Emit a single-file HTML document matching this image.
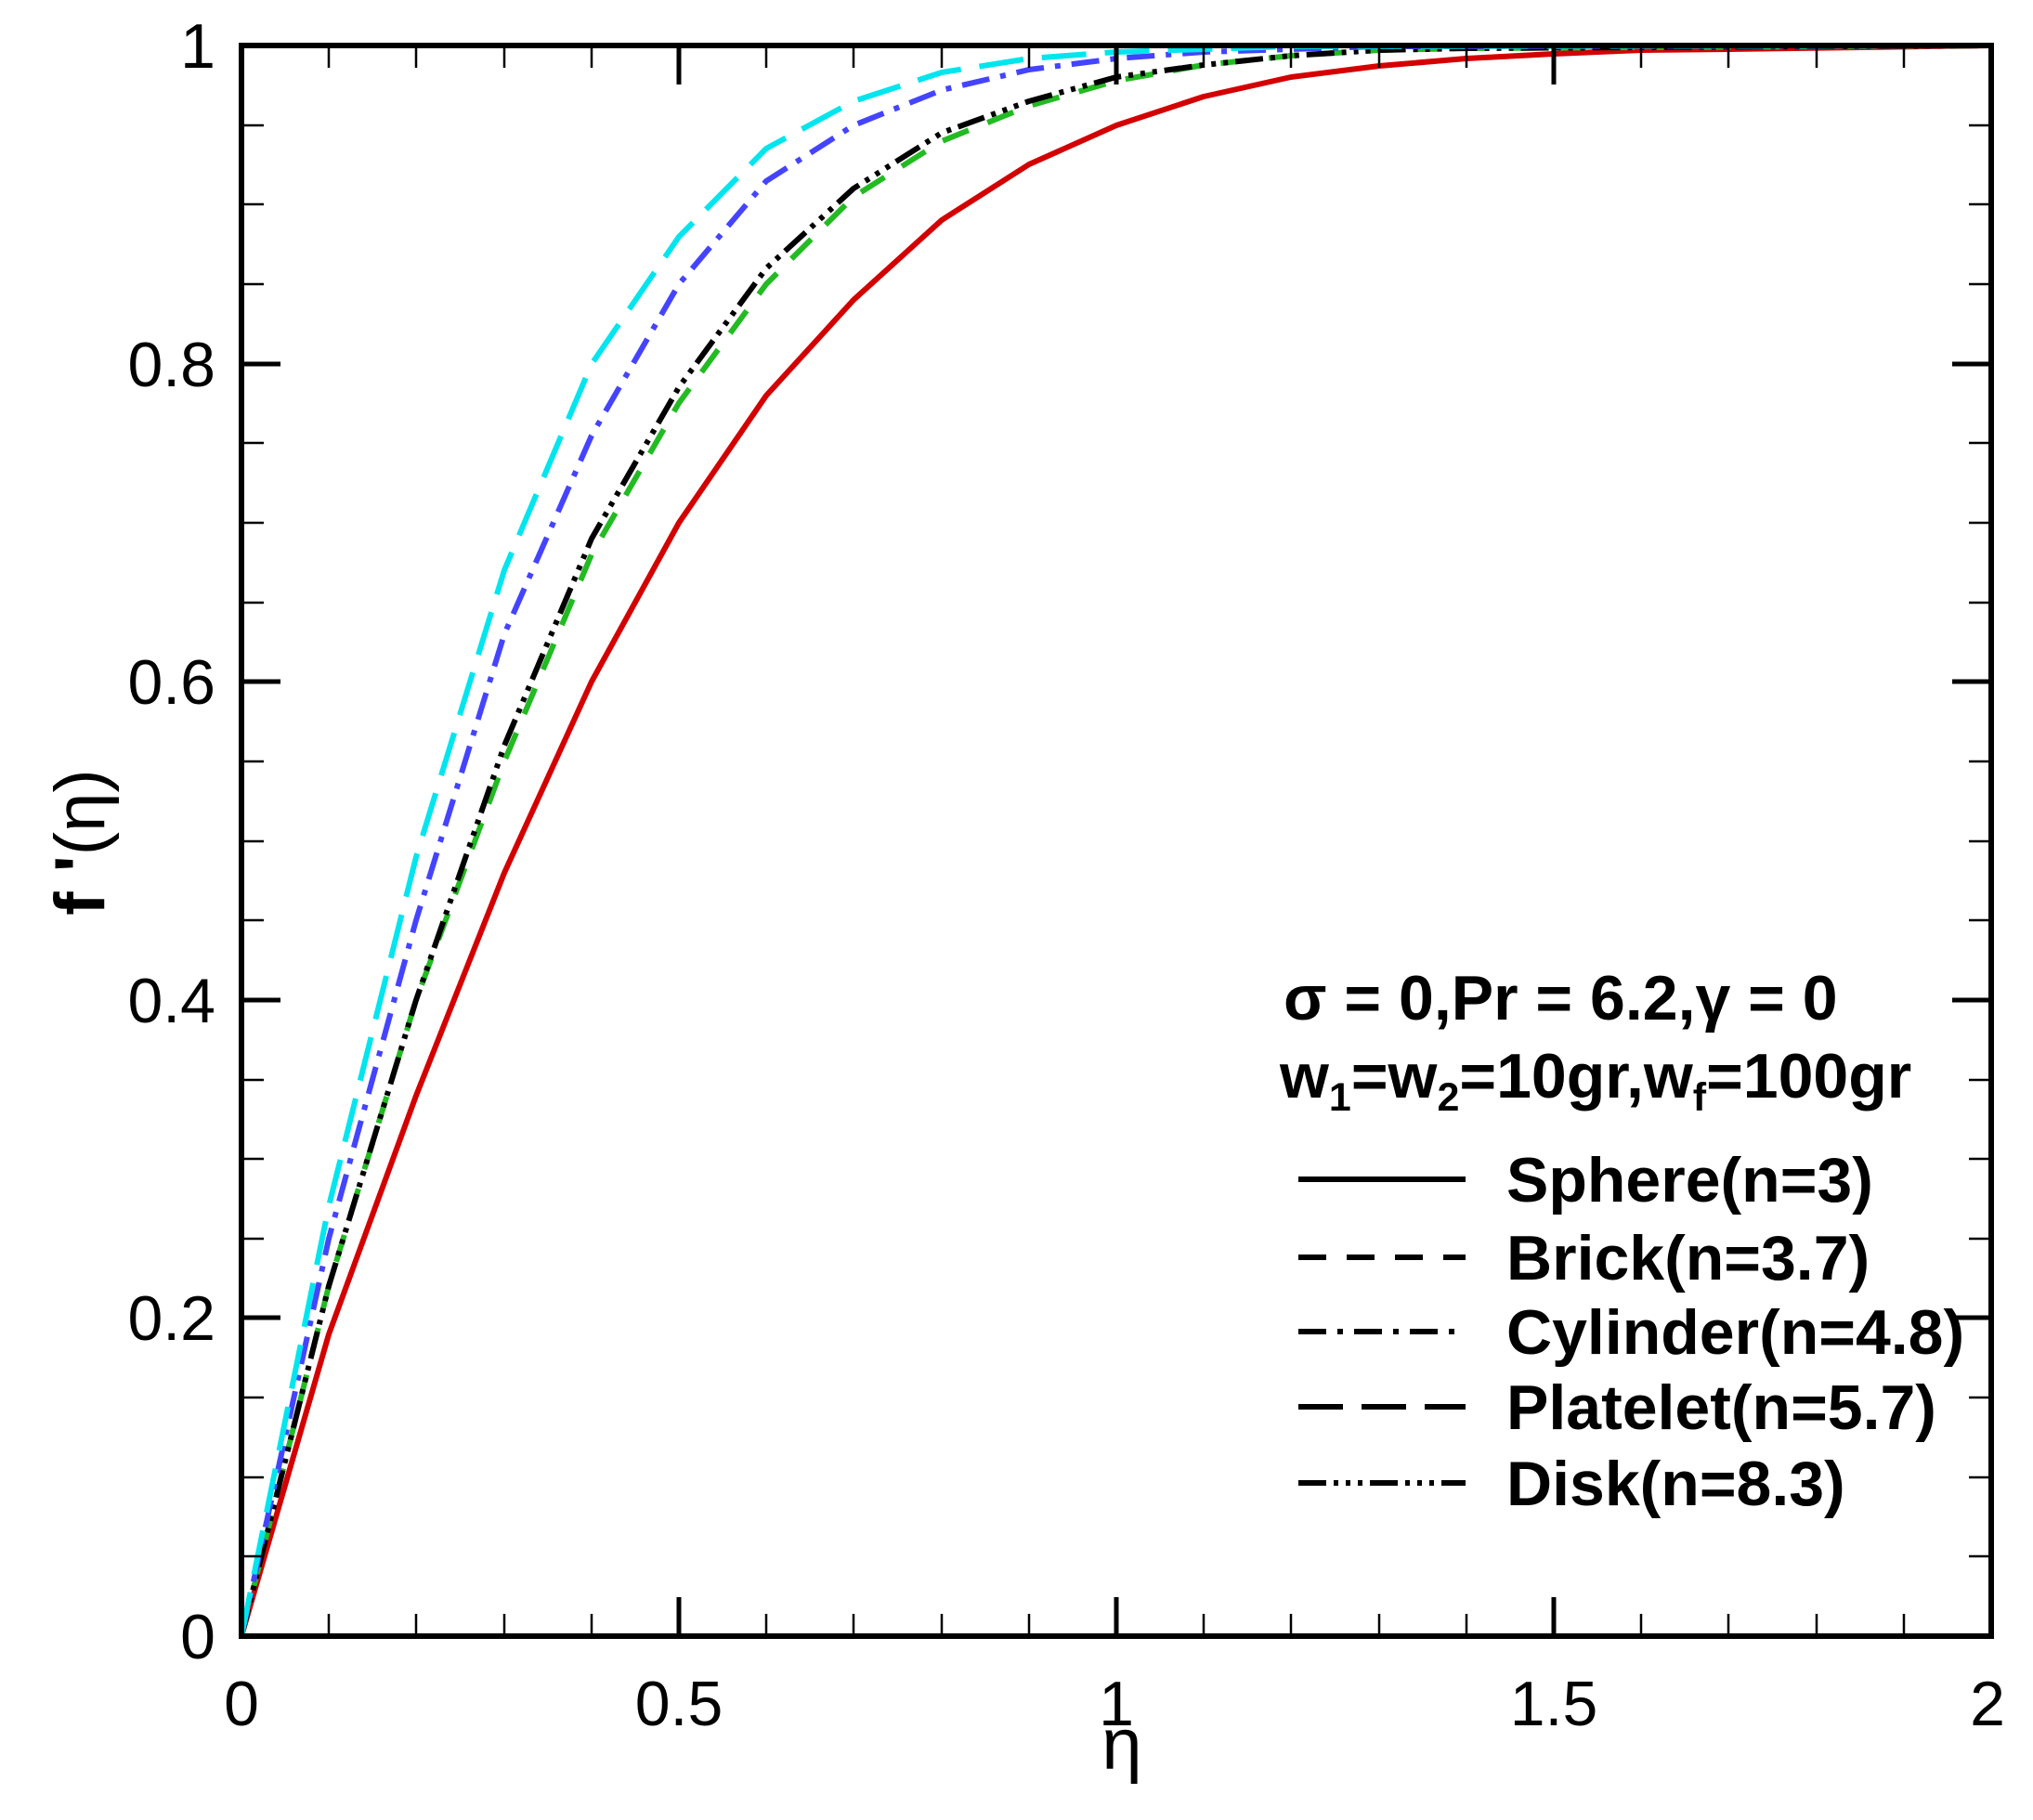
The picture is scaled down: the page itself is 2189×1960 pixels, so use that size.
<!DOCTYPE html>
<html><head><meta charset="utf-8"><style>html,body{margin:0;padding:0;background:#fff}</style></head>
<body>
<svg width="2189" height="1955" xmlns="http://www.w3.org/2000/svg" font-family="Liberation Sans, sans-serif">
<rect width="2189" height="1955" fill="#fff"/>
<g fill="none" stroke-width="6" stroke-linejoin="round">
<polyline stroke="#d40000" points="260,1762 354,1437 448,1180 543,940 637,734 731,563 825,426 919,323 1014,237 1108,177 1202,135 1296,104 1390,83 1485,71 1579,63 1673,58 1767,54 1861,53 2144,49"/>
<polyline stroke="#22bb22" stroke-dasharray="30,22" points="260,1762 354,1385 448,1077 543,820 637,597 731,434 825,306 919,212 1014,152 1108,114 1202,87 1296,70 1390,60 1485,54 1579,52 2144,49"/>
<polyline stroke="#000" stroke-dasharray="30,8,5,8,5,8,5,8" points="260,1762 354,1385 448,1077 543,803 637,580 731,417 825,289 919,203 1014,143 1108,109 1202,83 1296,70 1390,60 1485,54 1579,52 2144,49"/>
<polyline stroke="#4444ff" stroke-dasharray="30,12,6,12" points="260,1762 354,1334 448,991 543,683 637,469 731,306 825,195 919,135 1014,97 1108,75 1202,63 1296,56 1390,53 1485,50 2144,49"/>
<polyline stroke="#00e5ee" stroke-dasharray="48,20" points="260,1762 354,1299 448,923 543,614 637,392 731,255 825,160 919,109 1014,78 1108,63 1202,56 1296,53 1390,50 2144,49"/>
</g>
<g stroke="#000" fill="none">
<rect x="260" y="49" width="1884" height="1713" stroke-width="6"/>
<g stroke-width="5">
<path d="M260 392h42M260 734h42M260 1077h42M260 1419h42M2144 392h-42M2144 734h-42M2144 1077h-42M2144 1419h-42"/>
<path d="M731 1762v-42M1202 1762v-42M1673 1762v-42M731 49v42M1202 49v42M1673 49v42"/>
</g>
<g stroke-width="2.5">
<path d="M260 135h24M260 220h24M260 306h24M260 477h24M260 563h24M260 649h24M260 820h24M260 906h24M260 991h24M260 1163h24M260 1248h24M260 1334h24M260 1505h24M260 1591h24M260 1676h24"/>
<path d="M2144 135h-24M2144 220h-24M2144 306h-24M2144 477h-24M2144 563h-24M2144 649h-24M2144 820h-24M2144 906h-24M2144 991h-24M2144 1163h-24M2144 1248h-24M2144 1334h-24M2144 1505h-24M2144 1591h-24M2144 1676h-24"/>
<path d="M354 1762v-24M448 1762v-24M543 1762v-24M637 1762v-24M825 1762v-24M919 1762v-24M1014 1762v-24M1108 1762v-24M1296 1762v-24M1390 1762v-24M1485 1762v-24M1579 1762v-24M1767 1762v-24M1861 1762v-24M1956 1762v-24M2050 1762v-24"/>
<path d="M354 49v24M448 49v24M543 49v24M637 49v24M825 49v24M919 49v24M1014 49v24M1108 49v24M1296 49v24M1390 49v24M1485 49v24M1579 49v24M1767 49v24M1861 49v24M1956 49v24M2050 49v24"/>
</g>
</g>
<g font-size="68" fill="#000" text-anchor="end">
<text x="232" y="73">1</text>
<text x="232" y="416">0.8</text>
<text x="232" y="758">0.6</text>
<text x="232" y="1101">0.4</text>
<text x="232" y="1443">0.2</text>
<text x="232" y="1786">0</text>
</g>
<g font-size="68" fill="#000" text-anchor="middle">
<text x="260" y="1858">0</text>
<text x="731" y="1858">0.5</text>
<text x="1202" y="1858">1</text>
<text x="1673" y="1858">1.5</text>
<text x="2140" y="1858">2</text>
<text x="1208" y="1905" font-size="78">η</text>
</g>
<text transform="translate(112,907) rotate(-90)" font-size="76" text-anchor="middle"><tspan font-weight="bold">f '</tspan>(η)</text>
<g font-size="68" font-weight="bold" fill="#000">
<text x="1382" y="1098">σ = 0,Pr = 6.2,γ = 0</text>
<text x="1378" y="1182">w<tspan font-size="43" dy="14">1</tspan><tspan dy="-14">=w</tspan><tspan font-size="43" dy="14">2</tspan><tspan dy="-14">=10gr,w</tspan><tspan font-size="43" dy="14">f</tspan><tspan dy="-14">=100gr</tspan></text>
<text x="1622" y="1294">Sphere(n=3)</text>
<text x="1622" y="1378">Brick(n=3.7)</text>
<text x="1622" y="1458">Cylinder(n=4.8)</text>
<text x="1622" y="1539">Platelet(n=5.7)</text>
<text x="1622" y="1621">Disk(n=8.3)</text>
</g>
<g stroke="#000" stroke-width="6" fill="none">
<path d="M1398 1270h180"/>
<path d="M1398 1354h180" stroke-dasharray="30,22"/>
<path d="M1398 1434h180" stroke-dasharray="30,12,6,12"/>
<path d="M1398 1515h180" stroke-dasharray="48,20"/>
<path d="M1398 1597h180" stroke-dasharray="30,8,5,8,5,8,5,8"/>
</g>
</svg>
</body></html>
